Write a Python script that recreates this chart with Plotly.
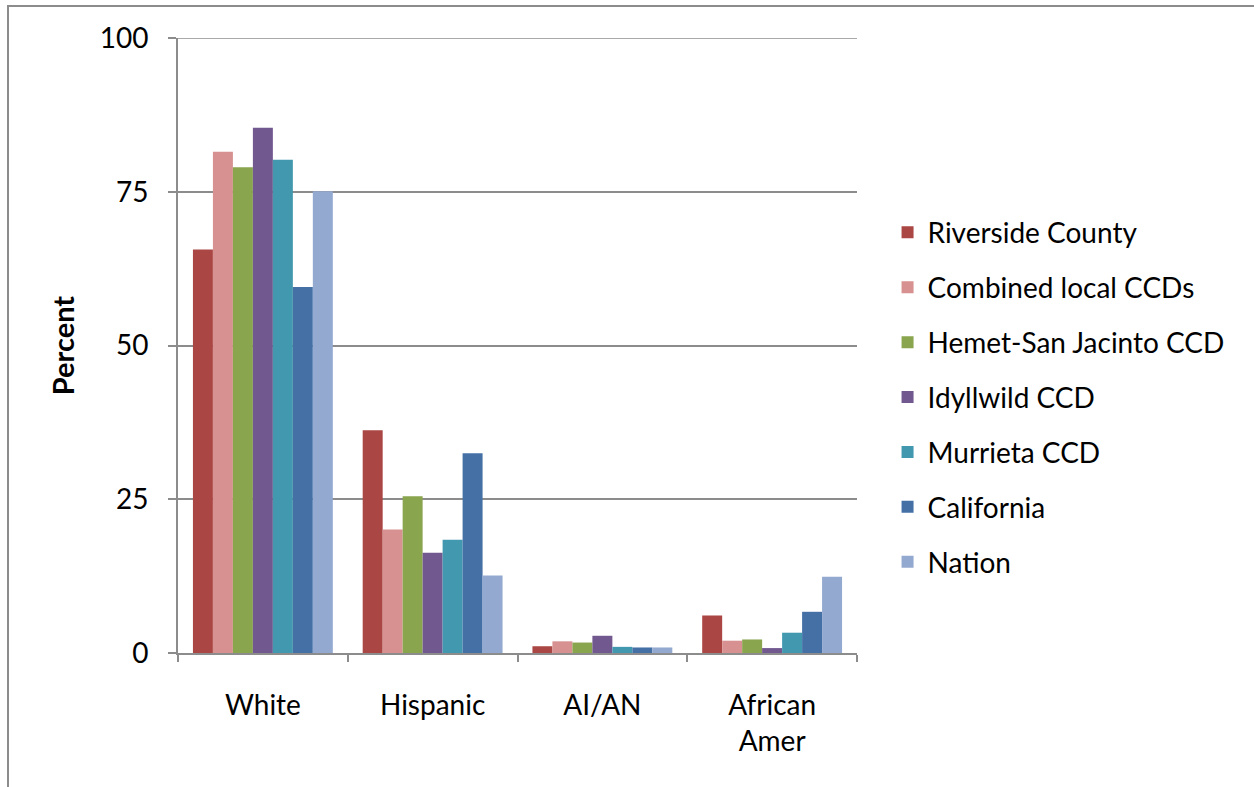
import plotly.graph_objects as go

categories = ["White", "Hispanic", "AI/AN", "African<br>Amer"]

series_names = [
    "Riverside County",
    "Combined local CCDs",
    "Hemet-San Jacinto CCD",
    "Idyllwild CCD",
    "Murrieta CCD",
    "California",
    "Nation",
]

riverside_county = [65.6, 36.2, 1.1, 6.1]
combined_local = [81.5, 20.1, 1.9, 2.0]
hemet_san_jacinto = [79.0, 25.5, 1.7, 2.2]
idyllwild = [85.4, 16.3, 2.8, 0.8]
murrieta = [80.2, 18.4, 1.0, 3.3]
california = [59.5, 32.5, 0.9, 6.7]
nation = [75.1, 12.6, 0.9, 12.4]

series_values = [riverside_county, combined_local, hemet_san_jacinto,
                 idyllwild, murrieta, california, nation]

colors = ["#AA4643", "#D69190", "#89A54E", "#71588F",
          "#4198AF", "#4470A6", "#93A9CF"]

y_ticks = [0, 25, 50, 75, 100]

FONT = "Lato, 'Noto Sans', sans-serif"
GRID = "#8c8c8c"
FS = 28

fig = go.Figure()
for i, (name, vals, col) in enumerate(zip(series_names, series_values, colors)):
    fig.add_trace(go.Bar(
        x=categories, y=vals, name=name,
        marker=dict(color=col, line=dict(width=0)),
        legendgroup=f"g{i}",
    ))

fig.update_layout(
    width=1254, height=787,
    margin=dict(l=178, r=397, t=38, b=134),
    paper_bgcolor="white", plot_bgcolor="white",
    font=dict(family=FONT, size=FS, color="black"),
    barmode="group", bargap=0.176, bargroupgap=0,
    showlegend=True,
    legend=dict(
        x=1.045, y=0.416, xanchor="left", yanchor="middle",
        traceorder="grouped", tracegroupgap=15.5,
        font=dict(family=FONT, size=FS, color="black"),
        itemwidth=30, bgcolor="rgba(0,0,0,0)",
    ),
    xaxis=dict(
        showline=True, linecolor=GRID, linewidth=2,
        ticks="outside", tickson="boundaries", ticklen=7,
        tickcolor=GRID, tickwidth=2,
        tickfont=dict(family=FONT, size=FS, color="black"),
        ticklabelstandoff=26,
    ),
    yaxis=dict(
        range=[0, 100], tickvals=y_ticks,
        showline=True, linecolor=GRID, linewidth=2,
        showgrid=True, gridcolor=GRID, gridwidth=1.5,
        ticks="outside", ticklen=8, tickcolor=GRID, tickwidth=2,
        tickfont=dict(family=FONT, size=FS, color="black"),
        ticklabelstandoff=14,
        zeroline=False,
        title=dict(text="<b>Percent</b>", font=dict(family=FONT, size=29, color="black"),
                   standoff=17),
    ),
    shapes=[
        # top gridline at the end of the value axis
        dict(type="line", xref="paper", yref="y", x0=0, x1=1,
             y0=y_ticks[-1], y1=y_ticks[-1],
             line=dict(color=GRID, width=1.5), layer="below"),
        # outer chart frame
        dict(type="rect", xref="paper", yref="paper",
             x0=(8 - 178) / 679, x1=(1300 - 178) / 679,
             y0=(653 - 830) / 615, y1=(653 - 6) / 615,
             line=dict(color="#8c8c8c", width=2), layer="below"),
    ],
)

fig.write_html("out.html")
